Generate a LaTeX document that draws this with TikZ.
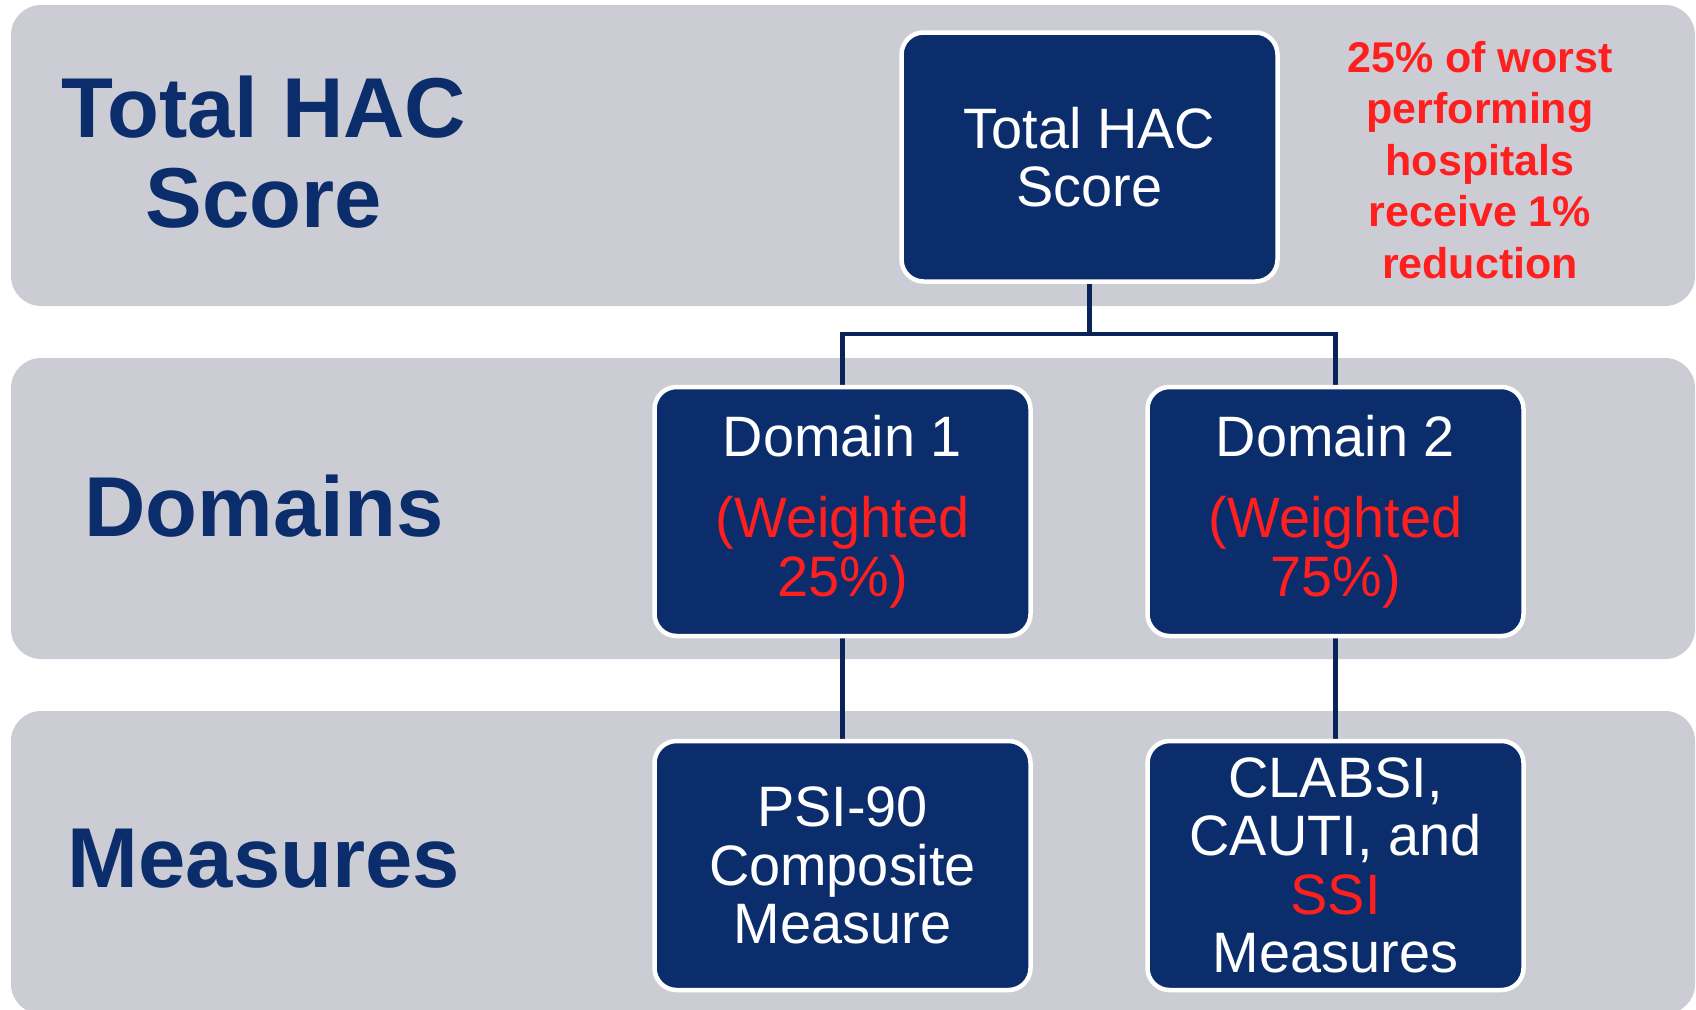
\documentclass[tikz,border=0pt]{standalone}
\usepackage{fontspec}
\setmainfont{Liberation Sans}
\newfontfamily\boxfont[FakeStretch=0.98]{Liberation Sans}
\newfontfamily\labfont{Liberation Sans}
\newfontfamily\notefont{Liberation Sans}
\definecolor{navy}{HTML}{0B2D6B}
\definecolor{bandgray}{HTML}{CBCCD4}
\definecolor{hacred}{HTML}{FF1F1F}
\definecolor{linenavy}{HTML}{0A2459}
\pgfdeclarelayer{bands}
\pgfdeclarelayer{edges}
\pgfsetlayers{bands,edges,main}
\begin{document}
\begin{tikzpicture}[x=1pt,y=-1pt,
  bandbox/.style={fill=bandgray, rounded corners=30pt},
  hacbox/.style={draw=white, line width=4.5pt, fill=navy, rounded corners=22pt,
    minimum width=376pt, minimum height=249pt, text=white, align=center,
    font=\boxfont\fontsize{57}{58.5}\selectfont, inner sep=0pt},
  rowlabel/.style={text=navy, align=center,
    font=\labfont\bfseries\fontsize{85}{90}\selectfont, inner sep=0pt},
  notetext/.style={text=hacred, align=center,
    font=\notefont\bfseries\fontsize{43}{51.4}\selectfont, inner sep=0pt},
  link/.style={draw=linenavy, line width=4.5pt}]
\useasboundingbox (0,0) rectangle (1696,1009);

\begin{pgfonlayer}{bands}
\fill[bandbox] (11,5) rectangle (1695,306);
\fill[bandbox] (11,358) rectangle (1695,659);
\fill[bandbox] (11,711) rectangle (1695,1014);
\end{pgfonlayer}

\node[rowlabel] (lbltotal) at (264,152) {Total HAC\\Score};
\node[rowlabel] (lbldomains) at (264,506) {Domains};
\node[rowlabel] (lblmeasures) at (264,859) {Measures};

\node[hacbox] (total) at (1089.5,157) {Total HAC\\Score};
\node[hacbox] (d1) at (842.5,511.5) {Domain 1\\[23pt]\textcolor{hacred}{(Weighted}\\\textcolor{hacred}{25\%)}};
\node[hacbox] (d2) at (1335.5,511.5) {Domain 2\\[23pt]\textcolor{hacred}{(Weighted}\\\textcolor{hacred}{75\%)}};
\node[hacbox] (m1) at (842.5,865.5) {PSI-90\\Composite\\Measure};
\node[hacbox] (m2) at (1335.5,865.5) {CLABSI,\\CAUTI, and\\\textcolor{hacred}{SSI}\\Measures};

\node[notetext] (note) at (1480,160) {25\% of worst\\performing\\hospitals\\receive 1\%\\reduction};

\coordinate (j) at (1089.5,334);
\begin{pgfonlayer}{edges}
\draw[link] (total.south) -- (j);
\draw[link] (j) -| (d1.north);
\draw[link] (j) -| (d2.north);
\draw[link] (d1.south) -- (m1.north);
\draw[link] (d2.south) -- (m2.north);
\end{pgfonlayer}
\end{tikzpicture}
\end{document}
